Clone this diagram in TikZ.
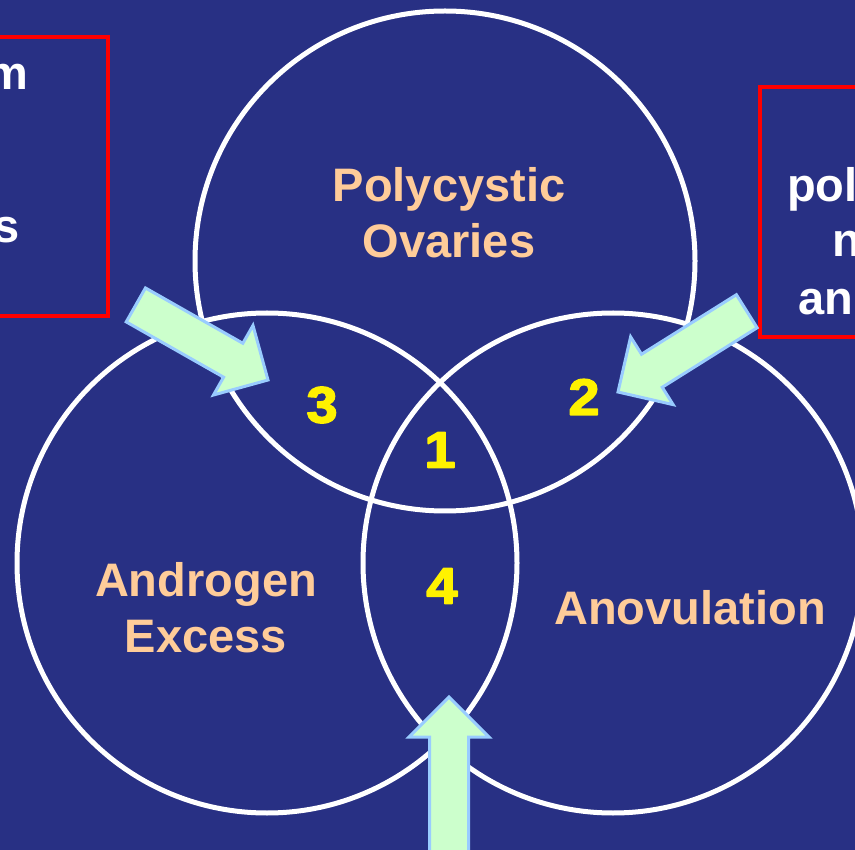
\documentclass[tikz,border=0pt]{standalone}
\usepackage{fontspec}
\setmainfont{Liberation Sans}
\newfontfamily\digitfont{Liberation Sans Bold}[FakeBold=3, FakeStretch=1.1]
\definecolor{slidebg}{RGB}{40,48,132}
\definecolor{peach}{RGB}{255,204,153}
\definecolor{mint}{RGB}{204,255,204}
\definecolor{skyedge}{RGB}{153,204,255}

\begin{document}
\begin{tikzpicture}[x=1pt, y=-1pt, line cap=round, line join=round]
  \tikzset{ring/.style={draw=white, line width=5pt, circle, minimum size=500pt, inner sep=0pt},
    setname/.style={text=peach, font=\fontsize{47}{56}\selectfont\bfseries, align=center, inner sep=0pt},
    regionno/.style={text=yellow, font=\fontsize{51}{60}\selectfont\digitfont, inner sep=0pt},
    note/.style={text=white, font=\fontsize{47}{56}\selectfont\bfseries, inner sep=0pt},
    redbox/.style={draw=red, line width=3.5pt, line join=miter},
    pointer/.style={fill=mint, draw=skyedge, line width=3pt, line join=miter}}

  \useasboundingbox (0,0) rectangle (855,850);
  \clip (0,0) rectangle (855,850);
  \fill[slidebg] (0,0) rectangle (855,850);

  % the two framed notes, cut by the edge of the slide
  \draw[redbox] (-10,37) rectangle (108,316);
  \node[note, anchor=base east] (lnoteA) at (28,90) {m};
  \node[note, anchor=base east] (lnoteB) at (20,243) {s};
  \draw[redbox] (760,87) rectangle (870,337);
  \node[note, anchor=base west] (rnoteA) at (787,202) {pol};
  \node[note, anchor=base west] (rnoteB) at (832,257) {n};
  \node[note, anchor=base west] (rnoteC) at (798,315) {an};

  % three overlapping criteria
  \node[ring] (ovaries) at (445,261) {};
  \node[ring] (androgen) at (267,563) {};
  \node[ring] (anovul) at (613,563) {};

  \node[setname] (ovtext) at (449,213) {Polycystic\\Ovaries};
  \node[setname] (antext) at (206,608) {Androgen\\Excess};
  \node[setname] (aotext) at (690,608) {Anovulation};

  \node[regionno] (r1) at (440,450) {1};
  \node[regionno] (r2) at (584,397) {2};
  \node[regionno] (r3) at (322,405) {3};
  \node[regionno] (r4) at (442,586) {4};

  % block arrows: tip x / tip y / angle / length
  \foreach \tx/\ty/\ang/\len in {268/380/-29.6/152, 618/392/212.1/152, 449/697/90/175} {
    \begin{scope}[shift={(\tx,\ty)}, rotate=\ang]
      \draw[pointer] (0,0) -- (-40,40) -- (-40,19.5) -- (-\len,19.5) -- (-\len,-19.5)
        -- (-40,-19.5) -- (-40,-40) -- cycle;
    \end{scope}
  }
\end{tikzpicture}
\end{document}
